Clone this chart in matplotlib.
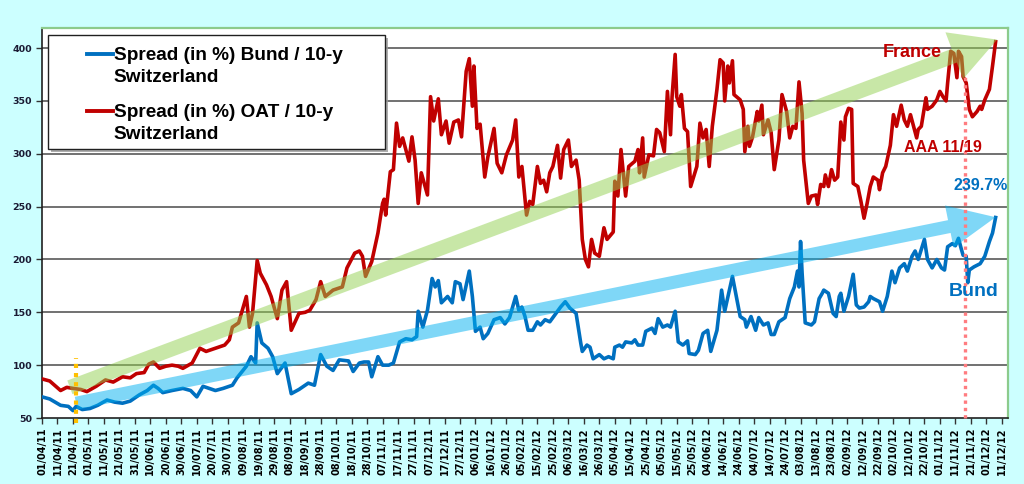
import matplotlib
matplotlib.use('Agg')
import matplotlib.pyplot as plt
import numpy as np
import pandas as pd
from matplotlib.patches import Rectangle
from matplotlib.lines import Line2D
from matplotlib.legend_handler import HandlerLine2D

start = pd.Timestamp('2011-04-01')

# OAT / 10-y Switzerland spread: days since 2011-04-01, value
oat_days = [0, 5, 12, 16, 20, 25, 29, 35, 41, 46, 52, 57, 61, 66, 69, 72, 76, 80, 84, 88,
            91, 97, 102, 106, 110, 114, 118, 121, 123, 127, 132, 134, 136, 139, 141, 145, 148, 152, 155, 158,
            161, 166, 170, 173, 177, 180, 183, 188, 194, 197, 202, 205, 207, 209, 213, 217, 220, 221, 222, 225,
            227, 229, 231, 233, 237, 239, 241, 243, 245, 249, 251, 253, 256, 258, 261, 263, 266, 269, 271, 274,
            276, 278, 279, 281, 283, 286, 288, 292, 294, 297, 300, 304, 306, 308, 310, 313, 315, 317, 320, 322,
            324, 326, 328, 330, 333, 335, 337, 340, 342, 345, 347, 349, 351, 353, 355, 357, 360, 363, 365, 369,
            370, 372, 374, 377, 379, 383, 385, 386, 388, 389, 392, 395, 397, 399, 402, 404, 406, 407, 409, 410,
            412, 413, 415, 417, 419, 423, 425, 427, 429, 431, 433, 436, 438, 440, 441, 443, 444, 446, 447, 451,
            453, 454, 456, 457, 459, 462, 463, 465, 466, 469, 471, 473, 476, 478, 481, 483, 485, 487, 489, 491,
            492, 495, 497, 500, 501, 503, 505, 506, 508, 510, 512, 514, 516, 518, 519, 521, 523, 524, 527, 529,
            531, 533, 535, 537, 540, 541, 543, 545, 548, 550, 552, 555, 557, 559, 561, 563, 565, 566, 568, 571,
            572, 575, 578, 580, 582, 584, 585, 587, 589, 591, 592, 594, 595, 597, 599, 601, 604, 606, 607, 609,
            612, 614, 616]
oat_vals = [87, 85, 76, 79, 78, 77, 75, 80, 86, 84, 89, 88, 92, 93, 101, 103, 97, 99, 100, 99,
            97, 102, 116, 113, 115, 117, 119, 124, 136, 140, 165, 136, 149, 199, 187, 176, 165, 144, 171, 179,
            133, 149, 150, 152, 162, 179, 165, 171, 174, 192, 206, 208, 203, 184, 198, 225, 253, 257, 242, 283,
            285, 329, 307, 315, 293, 316, 294, 253, 282, 261, 354, 331, 352, 318, 331, 310, 330, 332, 316, 378,
            390, 345, 383, 324, 328, 278, 297, 324, 291, 282, 299, 313, 332, 278, 288, 242, 255, 252, 288, 272,
            275, 264, 282, 288, 308, 277, 304, 313, 288, 294, 275, 219, 200, 193, 219, 206, 203, 230, 219, 226,
            274, 260, 304, 260, 288, 293, 304, 282, 315, 278, 299, 298, 323, 320, 302, 359, 318, 354, 394, 354,
            345, 356, 324, 321, 269, 288, 329, 315, 323, 288, 326, 361, 389, 386, 350, 383, 367, 388, 356, 351,
            342, 302, 326, 307, 316, 340, 331, 346, 318, 332, 320, 285, 313, 356, 340, 315, 326, 324, 368, 338,
            294, 253, 260, 261, 252, 271, 269, 280, 269, 285, 275, 278, 330, 313, 335, 343, 342, 272, 269, 255,
            239, 253, 269, 278, 275, 266, 282, 288, 308, 337, 326, 346, 332, 326, 337, 326, 315, 323, 326, 353,
            342, 345, 351, 359, 354, 350, 367, 397, 395, 372, 397, 392, 373, 367, 342, 335, 340, 345, 342, 351,
            361, 383, 406]

# Bund / 10-y Switzerland spread
bund_days = [0, 5, 12, 17, 20, 22, 26, 31, 36, 42, 47, 52, 57, 63, 68, 72, 75, 78, 84, 91,
             96, 100, 104, 108, 112, 117, 123, 126, 132, 135, 138, 139, 142, 146, 149, 152, 157, 161, 166, 172,
             176, 180, 184, 188, 192, 198, 201, 205, 208, 211, 213, 217, 220, 224, 227, 231, 235, 239, 242, 243,
             246, 249, 252, 254, 256, 258, 262, 265, 267, 270, 272, 276, 278, 280, 283, 285, 288, 292, 296, 299,
             302, 306, 308, 310, 312, 314, 317, 320, 322, 325, 328, 332, 335, 338, 341, 345, 348, 349, 352, 354,
             356, 360, 363, 366, 369, 370, 373, 375, 377, 381, 383, 385, 388, 390, 394, 396, 398, 401, 404, 406,
             409, 411, 414, 417, 418, 422, 424, 427, 430, 432, 436, 439, 441, 446, 451, 454, 455, 458, 461, 463,
             466, 469, 471, 473, 476, 480, 483, 486, 488, 489, 490, 491, 493, 497, 499, 502, 504, 505, 508, 511,
             513, 515, 516, 518, 521, 524, 526, 528, 531, 534, 535, 537, 541, 543, 546, 549, 551, 554, 557, 559,
             562, 564, 566, 570, 572, 575, 578, 581, 583, 585, 588, 590, 592, 594, 595, 597, 598, 599, 602, 606,
             609, 612, 614, 616]
bund_vals = [70, 68, 62, 61, 57, 61, 58, 59, 62, 67, 65, 64, 66, 72, 76, 81, 78, 74, 76, 78,
             76, 70, 80, 78, 76, 78, 81, 88, 99, 108, 102, 140, 121, 116, 108, 92, 102, 73, 77, 83,
             81, 110, 99, 95, 105, 104, 94, 102, 103, 103, 89, 108, 100, 100, 102, 122, 125, 124, 127, 151,
             136, 152, 182, 174, 180, 159, 165, 159, 179, 177, 162, 189, 165, 132, 136, 125, 130, 143, 145, 139,
             145, 165, 152, 155, 146, 133, 133, 141, 138, 143, 141, 149, 155, 160, 154, 149, 121, 113, 119, 117,
             106, 110, 106, 108, 106, 117, 119, 117, 122, 121, 124, 119, 119, 132, 135, 130, 144, 136, 138, 136,
             151, 122, 119, 123, 111, 110, 114, 130, 133, 113, 133, 171, 151, 184, 146, 143, 136, 146, 133, 145,
             138, 140, 129, 129, 141, 145, 163, 174, 189, 174, 217, 187, 140, 138, 141, 163, 168, 171, 168, 149,
             146, 165, 168, 151, 165, 186, 157, 154, 155, 160, 165, 163, 160, 151, 165, 189, 178, 192, 196, 189,
             203, 208, 200, 219, 200, 192, 200, 192, 190, 212, 215, 213, 220, 209, 204, 203, 178, 190, 193, 196,
             203, 217, 225, 239.7]

bund_label = 'Spread (in %) Bund / 10-y\nSwitzerland'
oat_label = 'Spread (in %) OAT / 10-y\nSwitzerland'
y_ticks = [50, 100, 150, 200, 250, 300, 350, 400]
x_ticks = pd.date_range('2011-04-01', '2012-12-11', freq='10D')

RED = '#C00000'
BLUE = '#0070C0'
W, H = 1024, 484

fig = plt.figure(figsize=(W / 100, H / 100), dpi=100, facecolor='#CCFFFF')
ax = fig.add_axes([42 / W, 1 - 418 / H, 966 / W, 390 / H])
ax.set_facecolor('white')

oat_dates = start + pd.to_timedelta(oat_days, unit='D')
bund_dates = start + pd.to_timedelta(bund_days, unit='D')

for yv in y_ticks[1:]:
    ax.axhline(yv, color='#4a4a4a', lw=1.1, zorder=1)

ax.plot(bund_dates, bund_vals, color=BLUE, lw=2.6, zorder=3, solid_joinstyle='round')
ax.plot(oat_dates, oat_vals, color=RED, lw=2.6, zorder=3, solid_joinstyle='round')

ax.set_xlim(start, start + pd.Timedelta(days=624))
ax.set_ylim(50, 419)
ax.set_yticks(y_ticks)
ax.set_xticks(x_ticks)
ax.set_xticklabels([d.strftime('%d/%m/%y') for d in x_ticks], rotation=90,
                   fontsize=7, fontweight='bold', family='DejaVu Sans', color='black')
ax.set_yticklabels([str(v) for v in y_ticks], fontsize=6.8, fontweight='bold',
                   family='DejaVu Sans', color='#1a1a33')
ax.tick_params(axis='x', length=4, width=1, color='#333333', pad=3)
ax.tick_params(axis='y', length=4, width=1, color='#333333', pad=3)

for s in ['left', 'bottom']:
    ax.spines[s].set_color('#202020')
    ax.spines[s].set_linewidth(1.2)
for s in ['top', 'right']:
    ax.spines[s].set_color('#8CCB8C')
    ax.spines[s].set_linewidth(1.6)

def d(n):
    return start + pd.Timedelta(days=n)

# trend arrows
ax.annotate('', xy=(d(617), 408), xytext=(d(18), 79),
            arrowprops=dict(arrowstyle='simple,head_length=33,head_width=36,tail_width=10.5',
                            mutation_scale=1, color='#92D050', alpha=0.5, lw=0,
                            shrinkA=0, shrinkB=0), zorder=4)
ax.annotate('', xy=(d(616), 240), xytext=(d(22), 64),
            arrowprops=dict(arrowstyle='simple,head_length=34,head_width=31,tail_width=9.4',
                            mutation_scale=1, color='#00B0F0', alpha=0.5, lw=0,
                            shrinkA=0, shrinkB=0), zorder=4)

# vertical marker lines
ax.plot([d(22), d(22)], [45, 107], color='#FFC000', lw=3, ls=(0, (1, 1.2)), zorder=5, clip_on=False)
ax.plot([d(596), d(596)], [50, 375], color='#FF7C80', lw=2.4, ls=(0, (1, 1.2)), zorder=5, clip_on=False)

# text annotations
ax.text(d(562), 396, 'France', color=RED, fontsize=13, fontweight='bold',
        family='Liberation Sans', ha='center', va='center', zorder=6)
ax.text(d(582), 306, 'AAA 11/19', color=RED, fontsize=11.5, fontweight='bold',
        family='Liberation Sans', ha='center', va='center', zorder=6)
ax.text(d(606), 270, '239.7%', color=BLUE, fontsize=11.5, fontweight='bold',
        family='Liberation Sans', ha='center', va='center', zorder=6)
ax.text(d(602), 170, 'Bund', color=BLUE, fontsize=14, fontweight='bold',
        family='Liberation Sans', ha='center', va='center', zorder=6)

# legend box (frame drawn with shadow)
fig.patches.append(Rectangle((51 / W, 1 - 152 / H), 337 / W, 114 / H, transform=fig.transFigure,
                             facecolor='#9a9a9a', edgecolor='none', zorder=8, alpha=0.8))
fig.patches.append(Rectangle((48 / W, 1 - 149 / H), 337 / W, 114 / H, transform=fig.transFigure,
                             facecolor='white', edgecolor='#202020', lw=1.0, zorder=9))


class TopLineHandler(HandlerLine2D):
    """Place the legend line level with the first line of a two-line label."""
    def create_artists(self, legend, orig_handle, xdescent, ydescent, width, height,
                       fontsize, trans):
        arts = super().create_artists(legend, orig_handle, xdescent, ydescent, width,
                                      height, fontsize, trans)
        for a in arts:
            a.set_ydata(np.asarray(a.get_ydata(), dtype=float) + 0.66 * fontsize)
        return arts


handles = [Line2D([], [], color=BLUE, lw=2.8), Line2D([], [], color=RED, lw=2.8)]
leg = fig.legend(handles, [bund_label, oat_label], loc='upper left',
                 bbox_to_anchor=(87 / W, 1 - 47 / H), bbox_transform=fig.transFigure,
                 frameon=False, borderpad=0, borderaxespad=0, handlelength=1.35,
                 handletextpad=0.05, labelspacing=0.92,
                 handler_map={Line2D: TopLineHandler()},
                 prop={'family': 'Liberation Sans', 'weight': 'bold', 'size': 13.7})
for t in leg.get_texts():
    t.set_linespacing(1.4)
leg.set_zorder(10)

fig.savefig('out.png', dpi=100, facecolor=fig.get_facecolor())
